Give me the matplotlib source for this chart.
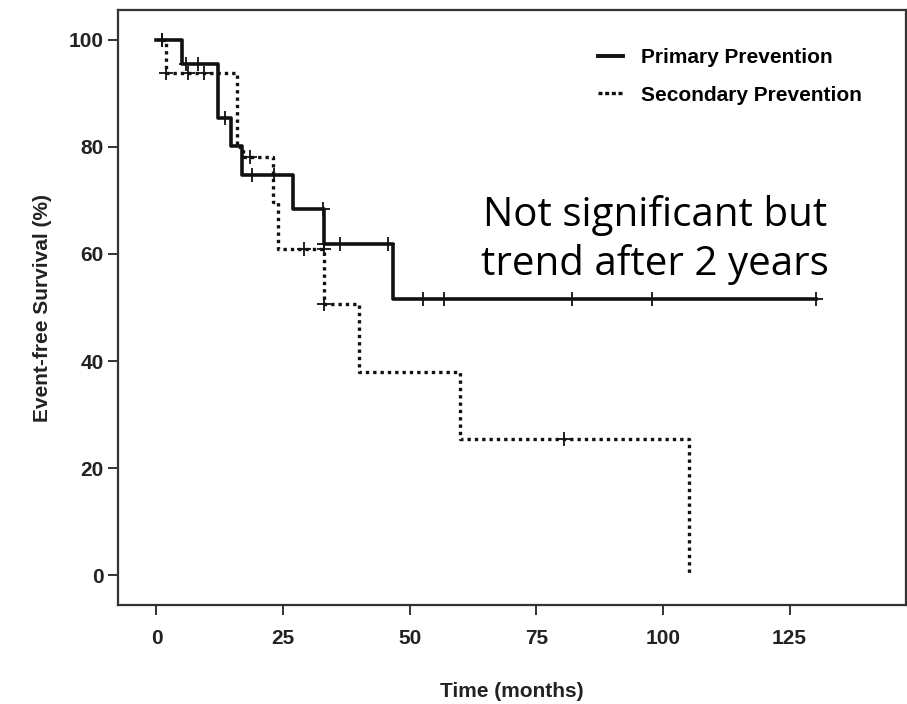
import matplotlib
matplotlib.use("Agg")
import matplotlib.pyplot as plt
from matplotlib.lines import Line2D

# step curves (time in months, event-free survival in %)
primary_t = [0, 1, 5.0, 12.1, 14.8, 16.8, 27.0, 33.0, 46.7, 130.2]
primary_s = [100, 100, 95.5, 85.4, 80.1, 74.8, 68.4, 61.8, 51.5, 51.5]
primary_cens_t = [1, 5.9, 8.2, 13.5, 18.8, 23.2, 32.8, 33.0, 36.2, 45.7, 52.7, 56.8, 82.0, 97.9, 130.2]
primary_cens_s = [100, 95.5, 95.5, 85.4, 74.8, 74.8, 68.4, 61.8, 61.8, 61.8, 51.5, 51.5, 51.5, 51.5, 51.5]

secondary_t = [1, 1.9, 15.8, 17.0, 23.0, 24.0, 33.0, 40.0, 60.0, 105.2, 105.2]
secondary_s = [100, 93.9, 80.0, 78.2, 69.7, 61.0, 50.7, 38.0, 25.4, 25.4, 0]
secondary_cens_t = [1, 1.9, 6.3, 9.4, 18.4, 29.1, 33.0, 33.0, 80.4]
secondary_cens_s = [100, 93.9, 93.9, 93.9, 78.2, 61.0, 61.0, 50.7, 25.4]

xticks = [0, 25, 50, 75, 100, 125]
yticks = [0, 20, 40, 60, 80, 100]

fig = plt.figure(figsize=(9.07, 7.04), dpi=100)
ax = fig.add_axes([118 / 907, 1 - 605 / 704, 788 / 907, 595 / 704])

ax.step(primary_t, primary_s, where='post', color='#111111', lw=2.6)
ax.step(secondary_t, secondary_s, where='post', color='#111111', lw=2.4,
        linestyle=(0, (1, 1.2)))
ax.plot(primary_cens_t, primary_cens_s, '+', color='#111111', ms=10, mew=1.3)
ax.plot(secondary_cens_t, secondary_cens_s, '+', color='#111111', ms=10, mew=1.3)

ax.set_xlim(-7.6, 148)
ax.set_ylim(-5.6, 105.6)
ax.set_xticks(xticks)
ax.set_yticks(yticks)
for s in ax.spines.values():
    s.set_linewidth(1.6)
    s.set_color('#333333')
ax.tick_params(direction='out', length=7.5, width=1.4, color='#333333')
ax.tick_params(axis='x', pad=10)
ax.tick_params(axis='y', pad=3)
for lab in ax.get_xticklabels() + ax.get_yticklabels():
    lab.set_fontfamily('Liberation Sans')
    lab.set_fontweight('bold')
    lab.set_fontsize(15)
    lab.set_color('#222222')

ax.set_xlabel('Time (months)', fontfamily='Liberation Sans', fontweight='bold',
              fontsize=15, color='#222222', labelpad=24)
ax.set_ylabel('Event-free Survival (%)', fontfamily='Liberation Sans',
              fontweight='bold', fontsize=15, color='#222222', labelpad=12)

handles = [Line2D([], [], color='#111111', lw=2.8),
           Line2D([], [], color='#111111', lw=2.4, linestyle=(0, (1.2, 0.8)))]
ax.legend(handles, ['Primary Prevention', 'Secondary Prevention'], loc='upper left',
          frameon=False, handlelength=1.2, handletextpad=0.85, labelspacing=0.9,
          borderpad=0, borderaxespad=0,
          prop={'family': 'Liberation Sans', 'weight': 'bold', 'size': 15},
          bbox_to_anchor=(598 / 907, 1 - 48 / 704), bbox_transform=fig.transFigure)

ax.text(98.4, 62.6, 'Not significant but\ntrend after 2 years', ha='center', va='center',
        fontfamily='Open Sans', fontsize=29, color='black', linespacing=1.25)

fig.savefig('out.png', dpi=100)
